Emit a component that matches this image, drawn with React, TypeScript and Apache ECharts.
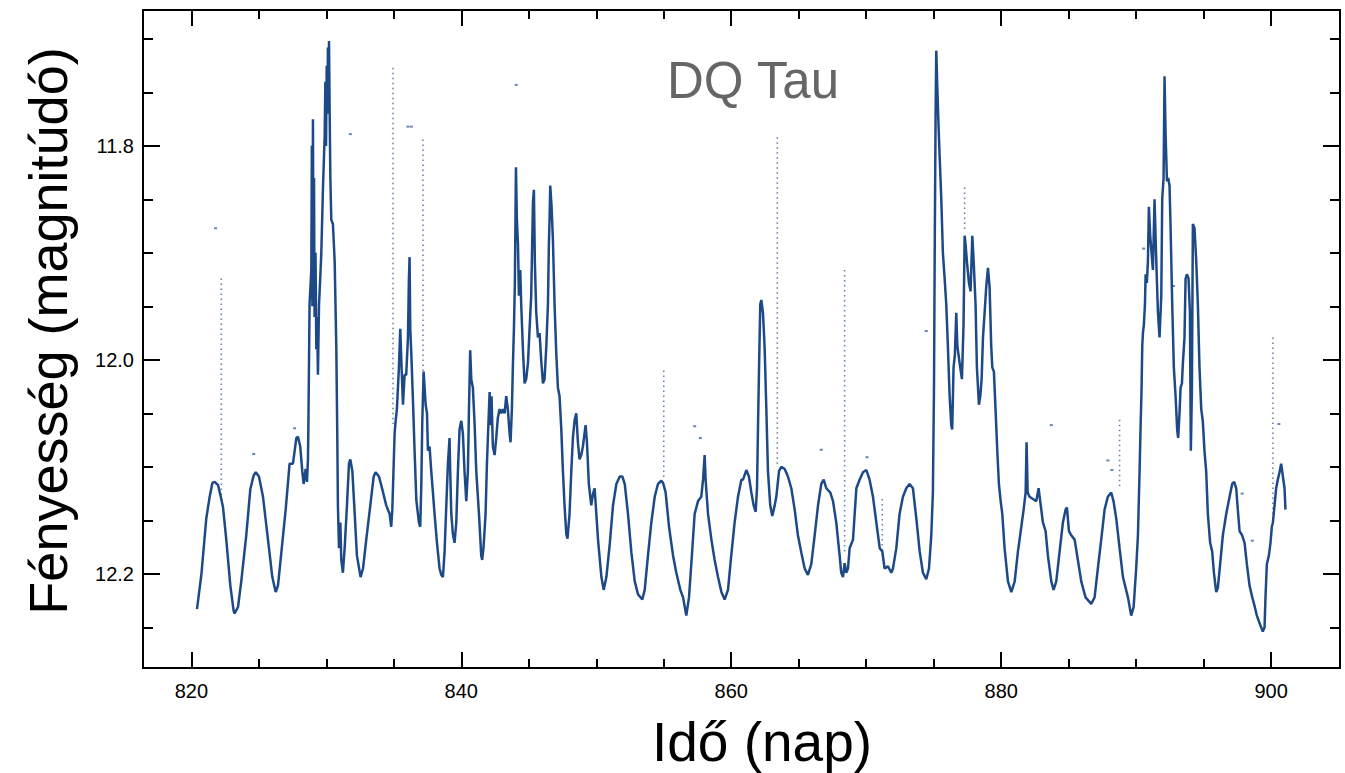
import React, { useEffect, useRef } from 'react';
import * as echarts from 'echarts';

// ---- Light curve of DQ Tau: [day, magnitude] ----
const curve820: [number, number][] = [
  [820.42,12.233],[820.75,12.200],[821.11,12.148],[821.36,12.128],[821.56,12.115],[821.73,12.114],[821.98,12.117],
  [822.22,12.130],[822.35,12.138],[822.59,12.168],[822.89,12.211],[823.14,12.235],[823.21,12.237],[823.46,12.231],
  [823.70,12.207],[824.07,12.164],[824.37,12.121],[824.62,12.108],[824.77,12.105],[825.01,12.109],[825.31,12.128],
  [825.68,12.168],[826.00,12.203],[826.25,12.217],[826.42,12.211],[826.67,12.180],[826.99,12.140],[827.28,12.097],
];
const curve827: [number, number][] = [
  [827.53,12.097],[827.78,12.073],[827.90,12.072],[828.07,12.081],[828.22,12.104],[828.32,12.116],[828.47,12.102],
  [828.57,12.114],[828.64,12.093],[828.67,12.065],[828.76,11.948],[828.89,11.916],[828.93,11.800],[828.97,11.950],
  [829.01,11.775],[829.05,11.930],[829.09,11.830],[829.13,11.960],[829.20,11.900],[829.26,11.990],[829.32,11.960],
  [829.38,12.014],[829.46,11.948],[829.55,11.924],[829.63,11.900],[829.75,11.841],[829.88,11.790],[829.93,11.740],
  [829.98,11.800],[830.03,11.725],[830.08,11.770],[830.12,11.708],[830.17,11.745],[830.20,11.702],[830.25,11.770],
  [830.30,11.830],[830.37,11.869],[830.49,11.873],[830.62,11.908],[830.74,11.987],[830.81,12.066],[830.86,12.136],
  [830.94,12.176],[831.04,12.152],[831.11,12.187],[831.23,12.199],[831.36,12.176],[831.53,12.136],[831.68,12.097],
  [831.78,12.093],[831.93,12.104],[832.10,12.143],[832.27,12.183],[832.54,12.203],[832.72,12.195],[832.96,12.168],
  [833.26,12.136],[833.51,12.109],[833.65,12.105],[833.90,12.109],[834.15,12.121],[834.44,12.136],[834.69,12.144],
  [834.81,12.156],[834.89,12.140],[835.06,12.069],[835.13,12.058],[835.23,12.046],[835.38,12.007],[835.48,11.971],
  [835.55,11.998],[835.68,12.042],[835.80,12.014],[835.92,12.014],[836.05,11.979],[836.12,11.924],[836.17,11.904],
  [836.22,11.971],[836.30,11.995],[836.42,12.038],[836.54,12.085],[836.67,12.131],[836.86,12.152],[836.96,12.156],
  [837.04,12.116],[837.11,12.058],[837.21,12.011],[837.36,12.042],[837.46,12.050],[837.53,12.085],[837.65,12.081],
  [837.78,12.105],[837.90,12.124],[838.02,12.144],[838.20,12.171],[838.39,12.195],[838.52,12.201],
];
const curve838: [number, number][] = [
  [838.64,12.203],[838.76,12.180],[838.89,12.136],[839.01,12.097],[839.13,12.073],[839.18,12.104],[839.26,12.144],
  [839.38,12.163],[839.50,12.171],[839.63,12.152],[839.75,12.104],[839.87,12.065],[840.00,12.057],[840.12,12.069],
  [840.24,12.104],[840.37,12.132],[840.49,12.104],[840.57,12.046],[840.66,11.991],[840.74,12.018],[840.86,12.026],
  [840.99,12.061],[841.11,12.104],[841.31,12.144],[841.48,12.183],[841.55,12.187],[841.65,12.175],[841.80,12.144],
  [841.90,12.097],[841.97,12.073],[842.10,12.030],[842.17,12.061],[842.24,12.034],[842.34,12.081],[842.47,12.089],
  [842.59,12.073],[842.71,12.054],[842.84,12.046],[842.96,12.050],[843.08,12.046],[843.21,12.050],[843.33,12.034],
  [843.45,12.046],[843.58,12.069],[843.65,12.077],[843.75,12.046],[843.82,12.007],[843.90,11.971],[843.97,11.928],
  [844.05,11.820],[844.12,11.869],[844.20,11.892],[844.27,11.940],[844.37,11.916],[844.44,11.948],[844.57,11.991],
  [844.69,12.022],[844.81,12.018],[844.94,12.003],[845.06,11.971],[845.18,11.940],[845.31,11.853],[845.38,11.841],
  [845.45,11.908],[845.55,11.955],[845.68,11.979],[845.80,11.975],[845.92,12.000],[846.05,12.022],[846.17,12.018],
  [846.30,11.987],[846.42,11.948],[846.49,11.892],[846.54,11.869],[846.59,11.837],[846.69,11.857],[846.79,11.888],
  [846.91,11.948],[847.04,11.995],[847.16,12.026],[847.28,12.034],[847.41,12.065],[847.53,12.104],[847.65,12.136],
  [847.78,12.163],[847.87,12.167],[848.02,12.144],[848.15,12.104],[848.27,12.073],[848.39,12.057],[848.52,12.050],
  [848.64,12.077],[848.76,12.093],[848.89,12.089],[849.01,12.081],[849.21,12.061],[849.31,12.077],[849.45,12.116],
  [849.63,12.136],[849.76,12.125],
];
const curve849: [number, number][] = [
  [849.88,12.120],[850.13,12.168],[850.38,12.203],[850.55,12.215],[850.75,12.203],[851.00,12.172],[851.24,12.136],
  [851.49,12.116],[851.74,12.109],[851.93,12.109],[852.11,12.116],[852.35,12.144],[852.60,12.180],[852.85,12.207],
  [853.09,12.219],[853.41,12.224],[853.59,12.215],[853.83,12.183],[854.08,12.152],[854.33,12.128],[854.57,12.116],
  [854.82,12.113],[854.95,12.115],[855.14,12.124],[855.39,12.156],[855.69,12.183],[855.93,12.199],[856.23,12.215],
  [856.43,12.222],[856.67,12.239],[856.87,12.222],[857.04,12.191],[857.29,12.144],[857.54,12.132],[857.78,12.128],
  [857.91,12.112],[858.03,12.089],[858.10,12.112],[858.28,12.144],[858.53,12.168],[858.77,12.187],[859.02,12.203],
  [859.27,12.217],[859.51,12.224],[859.76,12.215],[860.00,12.183],[860.25,12.152],[860.50,12.128],[860.75,12.112],
];
const curve860: [number, number][] = [
  [860.87,12.112],[861.12,12.103],[861.31,12.109],[861.49,12.124],[861.66,12.136],[861.81,12.142],[861.91,12.120],
  [861.98,12.065],[862.06,12.007],[862.15,11.948],[862.23,11.944],[862.35,11.956],[862.47,11.987],[862.60,12.046],
  [862.72,12.104],[862.89,12.136],[863.04,12.146],[863.22,12.136],[863.34,12.128],[863.54,12.104],[863.71,12.100],
  [863.96,12.102],[864.20,12.109],[864.45,12.120],[864.70,12.140],[864.94,12.164],[865.19,12.180],[865.44,12.195],
  [865.68,12.201],[865.93,12.191],[866.18,12.164],[866.43,12.136],[866.67,12.116],[866.85,12.112],[867.04,12.120],
  [867.34,12.124],[867.54,12.132],[867.78,12.152],[868.03,12.183],[868.15,12.199],[868.28,12.203],[868.40,12.190],
  [868.52,12.199],[868.65,12.195],[868.77,12.176],[869.02,12.168],[869.27,12.120],[869.51,12.112],[869.76,12.105],
  [870.01,12.103],[870.25,12.112],[870.50,12.128],[870.75,12.152],[871.00,12.176],[871.19,12.179],[871.36,12.195],
  [871.61,12.193],[871.86,12.199],
];
const curve872: [number, number][] = [
  [871.98,12.195],[872.23,12.176],[872.47,12.144],[872.72,12.128],[872.97,12.120],[873.21,12.116],[873.46,12.120],
  [873.71,12.148],[873.96,12.179],[874.20,12.199],[874.45,12.205],[874.65,12.195],[874.82,12.164],[874.94,12.124],
  [875.02,12.026],[875.07,11.908],[875.14,11.770],[875.19,11.711],[875.26,11.743],[875.36,11.782],[875.44,11.810],
  [875.56,11.849],[875.68,11.900],[875.81,11.924],[875.93,11.948],[876.05,11.987],[876.18,12.034],[876.30,12.061],
  [876.37,12.065],[876.47,12.007],[876.57,11.995],[876.67,11.956],[876.75,11.987],[876.92,12.003],[877.09,12.018],
  [877.21,11.967],[877.29,11.884],[877.36,11.892],[877.46,11.908],[877.61,11.928],[877.73,11.936],[877.86,11.884],
  [877.96,11.908],[878.10,11.948],[878.20,12.007],[878.35,12.042],[878.45,12.034],[878.55,12.018],[878.65,11.979],
  [878.77,11.956],[878.89,11.932],[879.02,11.914],[879.14,11.932],[879.26,11.987],[879.34,12.007],[879.46,12.011],
  [879.58,12.046],[879.71,12.085],[879.83,12.116],[879.96,12.132],[880.08,12.144],[880.25,12.176],[880.50,12.207],
  [880.75,12.217],[881.00,12.207],[881.24,12.179],[881.49,12.156],[881.66,12.140],[881.81,12.124],[881.88,12.077],
  [881.96,12.124],[882.10,12.128],[882.35,12.130],[882.60,12.132],[882.77,12.120],[882.89,12.132],[883.09,12.152],
];
const curve883: [number, number][] = [
  [883.29,12.160],[883.46,12.183],[883.71,12.207],[883.88,12.215],[884.08,12.207],[884.32,12.180],[884.57,12.152],
  [884.77,12.140],[884.87,12.138],[885.02,12.160],[885.19,12.164],[885.44,12.168],[885.68,12.187],[885.93,12.207],
  [886.25,12.222],[886.67,12.228],[886.92,12.222],[887.16,12.195],[887.41,12.168],[887.66,12.140],[887.90,12.128],
  [888.15,12.124],[888.32,12.132],[888.52,12.148],[888.77,12.176],[889.02,12.203],[889.39,12.222],[889.63,12.239],
  [889.81,12.231],[890.00,12.195],[890.13,12.164],[890.25,12.105],[890.32,12.066],[890.40,12.026],[890.45,11.987],
  [890.50,11.975],[890.57,11.967],[890.65,11.948],[890.70,11.920],[890.79,11.928],[890.87,11.908],[890.94,11.857],
  [891.04,11.884],[891.14,11.900],[891.24,11.916],[891.36,11.850],[891.49,11.908],[891.61,11.955],[891.73,11.979],
  [891.86,11.940],[891.93,11.849],[892.03,11.830],[892.10,11.735],[892.18,11.790],[892.28,11.833],[892.37,11.830],
  [892.47,11.837],[892.55,11.877],[892.67,11.948],[892.79,12.007],[892.92,12.034],[893.04,12.066],[893.11,12.073],
  [893.21,12.050],[893.29,12.026],[893.39,12.022],[893.46,12.003],[893.58,11.979],[893.66,11.924],[893.76,11.920],
  [893.88,11.924],[893.98,11.955],[894.05,12.085],[894.13,12.026],[894.20,11.873],
];
const curve894: [number, number][] = [
  [894.32,11.877],[894.45,11.908],[894.57,11.948],[894.69,12.007],[894.82,12.046],[894.94,12.058],[895.06,12.085],
  [895.19,12.105],[895.31,12.144],[895.48,12.171],[895.63,12.179],[895.76,12.199],[895.93,12.217],[896.05,12.213],
  [896.22,12.191],[896.42,12.164],[896.67,12.144],[896.92,12.128],[897.11,12.116],[897.26,12.114],[897.41,12.120],
  [897.53,12.140],[897.66,12.160],[897.85,12.164],[898.03,12.171],[898.20,12.191],[898.40,12.211],[898.60,12.222],
  [898.77,12.230],[898.94,12.239],[899.14,12.246],[899.26,12.250],[899.38,12.254],[899.51,12.250],[899.58,12.222],
  [899.68,12.191],[899.83,12.183],[899.95,12.171],[900.05,12.156],[900.13,12.152],[900.25,12.136],[900.37,12.120],
  [900.49,12.112],[900.62,12.105],[900.74,12.097],[900.87,12.109],[900.99,12.120],[901.06,12.140],
];

// Sparse vertical streaks of outlying points: [day, brightest mag, faintest mag]
const spikes: [number, number, number][] = [
  [822.22, 11.924, 12.130],
  [834.94, 11.727, 12.060],
  [837.16, 11.794, 12.020],
  [855.00, 12.010, 12.110],
  [863.41, 11.792, 12.100],
  [868.40, 11.916, 12.180],
  [871.19, 12.130, 12.180],
  [877.29, 11.839, 11.880],
  [888.77, 12.056, 12.120],
  [900.13, 11.979, 12.150],
];

// Isolated outlying points
const lonePoints: [number, number][] = [
  [821.80,11.877],[824.62,12.088],[827.65,12.064],[831.78,11.789],[836.05,11.782],[836.30,11.782],[844.07,11.743],
  [857.29,12.062],[857.71,12.073],[866.67,12.084],[870.06,12.091],[874.45,11.973],[883.71,12.061],[887.90,12.094],
  [888.20,12.103],[890.55,11.896],[892.77,11.931],[897.85,12.125],[898.60,12.169],[900.57,12.060],
];

const xMajorTicks = [820, 840, 860, 880, 900];
const xMinorTicks = [825, 830, 835, 845, 850, 855, 865, 870, 875, 885, 890, 895];
const yMajorTicks = [11.8, 12.0, 12.2];
const yMinorTicks = [11.7, 11.75, 11.85, 11.9, 11.95, 12.05, 12.1, 12.15, 12.25];

const X_MIN = 816.42;
const X_MAX = 905.1;
const Y_MIN = 11.673;
const Y_MAX = 12.288;

const TITLE = 'DQ Tau';
const X_NAME = 'Idő (nap)';
const Y_NAME = 'Fényesség (magnitúdó)';

const FONT = '"Liberation Sans", Arial, Helvetica, sans-serif';
const CURVE_COLOR = '#1d4a87';

export default function App() {
  const ref = useRef<HTMLDivElement>(null);

  useEffect(() => {
    if (!ref.current) return;
    const chart = echarts.init(ref.current, undefined, { renderer: 'svg' });

    const curve = [
      ...curve820, ...curve827, ...curve838, ...curve849,
      ...curve860, ...curve872, ...curve883, ...curve894,
    ];

    const tickStyle = { color: '#000', width: 2 };
    const makeX = (pos: 'top' | 'bottom', values: number[], len: number, labels: boolean) => ({
      type: 'value',
      min: X_MIN,
      max: X_MAX,
      position: pos,
      axisLine: { show: true, lineStyle: { color: '#000', width: 2 } },
      axisTick: { show: true, inside: true, length: len, customValues: values, lineStyle: tickStyle },
      axisLabel: labels
        ? { show: true, customValues: values, fontSize: 20, color: '#000', margin: 13, fontFamily: FONT, formatter: (v: number) => String(Math.round(v)) }
        : { show: false },
      splitLine: { show: false },
    });
    const makeY = (pos: 'left' | 'right', values: number[], len: number, labels: boolean) => ({
      type: 'value',
      inverse: true,
      min: Y_MIN,
      max: Y_MAX,
      position: pos,
      axisLine: { show: true, lineStyle: { color: '#000', width: 2 } },
      axisTick: { show: true, inside: true, length: len, customValues: values, lineStyle: tickStyle },
      axisLabel: labels
        ? { show: true, customValues: values, fontSize: 20, color: '#000', margin: 9, fontFamily: FONT, formatter: (v: number) => v.toFixed(1) }
        : { show: false },
      splitLine: { show: false },
    });

    chart.setOption({
      animation: false,
      backgroundColor: '#fff',
      grid: { left: 143, top: 10, width: 1197, height: 658, containLabel: false },
      xAxis: [
        makeX('bottom', xMajorTicks, 16, true),
        makeX('bottom', xMinorTicks, 9, false),
        makeX('top', xMajorTicks, 16, false),
        makeX('top', xMinorTicks, 9, false),
      ],
      yAxis: [
        makeY('left', yMajorTicks, 17, true),
        makeY('left', yMinorTicks, 10, false),
        makeY('right', yMajorTicks, 17, false),
        makeY('right', yMinorTicks, 10, false),
      ],
      series: [
        {
          type: 'line',
          xAxisIndex: 0,
          yAxisIndex: 0,
          data: curve,
          showSymbol: false,
          symbol: 'none',
          lineStyle: { color: CURVE_COLOR, width: 2.5 },
          clip: true,
          z: 3,
        },
        {
          type: 'custom',
          xAxisIndex: 0,
          yAxisIndex: 0,
          data: spikes,
          encode: { x: 0, y: [1, 2] },
          renderItem: (_params: any, api: any) => {
            const p1 = api.coord([api.value(0), api.value(1)]);
            const p2 = api.coord([api.value(0), api.value(2)]);
            return {
              type: 'line',
              shape: { x1: p1[0], y1: p1[1], x2: p2[0], y2: p2[1] },
              style: { stroke: '#4d6f9f', lineWidth: 1.6, lineDash: [1.5, 3.5], opacity: 0.85 },
            };
          },
          z: 2,
        },
        {
          type: 'scatter',
          xAxisIndex: 0,
          yAxisIndex: 0,
          data: lonePoints,
          symbol: 'rect',
          symbolSize: [3, 2],
          itemStyle: { color: '#4d6f9f', opacity: 0.85 },
          z: 2,
        },
      ],
      graphic: [
        {
          type: 'text',
          x: 753,
          y: 80,
          style: { text: TITLE, fontSize: 51, fill: '#666666', fontFamily: FONT, align: 'center', verticalAlign: 'middle' },
        },
        {
          type: 'text',
          x: 48,
          y: 331,
          rotation: Math.PI / 2,
          style: { text: Y_NAME, fontSize: 54, fill: '#000', fontFamily: FONT, align: 'center', verticalAlign: 'middle' },
        },
        {
          type: 'text',
          x: 762,
          y: 742,
          style: { text: X_NAME, fontSize: 55, fill: '#000', fontFamily: FONT, align: 'center', verticalAlign: 'middle' },
        },
      ],
    });

    return () => chart.dispose();
  }, []);

  return <div ref={ref} style={{ position: 'absolute', left: 0, top: 0, width: 1345, height: 773 }} />;
}
